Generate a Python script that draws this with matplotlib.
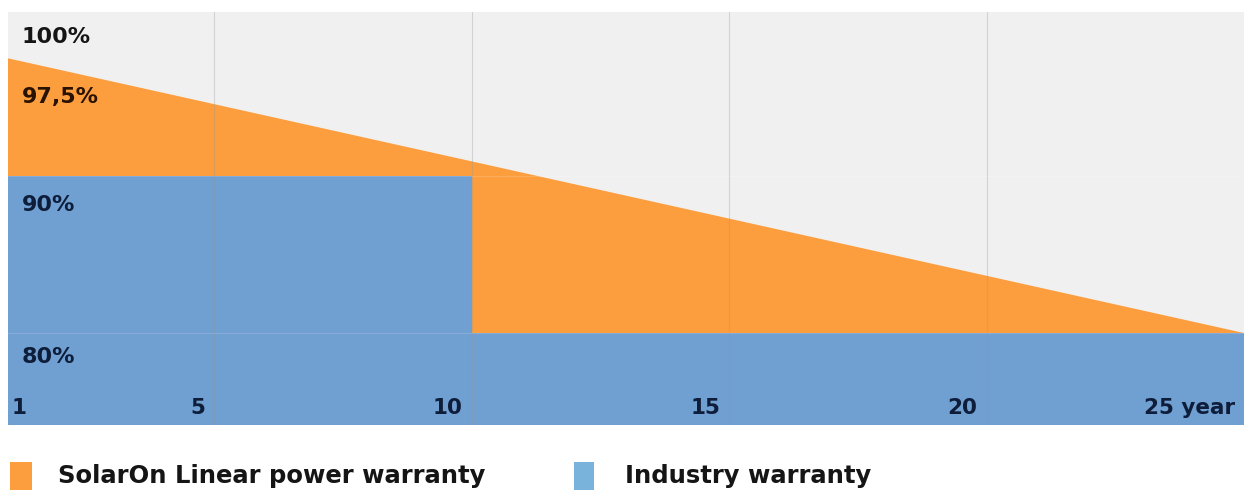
import matplotlib
matplotlib.use("Agg")
import matplotlib.pyplot as plt
from matplotlib.patches import Rectangle

# data
years = [1, 25]
solaron_pct = [97.5, 80]
industry_years = [1, 10, 10, 25]
industry_pct = [90, 90, 80, 80]
year_ticks = [1, 5, 10, 15, 20, 25]
year_labels = ["1", "5", "10", "15", "20", "25 year"]
pct_values = [100, 97.5, 90, 80]
pct_labels = ["100%", "97,5%", "90%", "80%"]
legend_labels = ["SolarOn Linear power warranty", "Industry warranty"]

orange = "#fd9e3e"
blue = "#709fd1"
legend_blue = "#79b3dc"
bg = "#f0f0f0"

plt.rcParams['font.family'] = ['DejaVu Sans']

fig = plt.figure(figsize=(12.44, 4.9), dpi=100)
ax = fig.add_axes([8/1244, 65/490, 1236/1244, 413/490])
ax.set_facecolor(bg)
ax.set_xlim(1, 25)
ax.set_ylim(74.14, 100.45)

ax.fill_between(years, 0, solaron_pct, color=orange, lw=0, zorder=1)
ax.fill_between(industry_years, 0, industry_pct, color=blue, lw=0, zorder=2)

for x in year_ticks[1:-1]:
    ax.axvline(x, color="#9a9a9a", lw=0.8, alpha=0.35, zorder=3)
for y in [90, 80]:
    ax.axhline(y, color="#ffffff", lw=0.8, alpha=0.15, zorder=3)

for s in ax.spines.values():
    s.set_visible(False)
ax.set_xticks([])
ax.set_yticks([])

# percentage labels, inside the plot
offsets = [-18, -39, -29, -24]
colors = ["#151515", "#2a1200", "#0e1d3a", "#0e1d3a"]
for v, lab, off, c in zip(pct_values, pct_labels, offsets, colors):
    ax.annotate(lab, (1, v), xytext=(14, off), textcoords="offset pixels",
                ha="left", va="center", fontsize=16, fontweight="bold", color=c, zorder=5)

# year labels along the bottom
for x, lab in zip(year_ticks, year_labels):
    if x == 1:
        ax.annotate(lab, (x, 74.14), xytext=(4, 17), textcoords="offset pixels",
                    ha="left", va="center", fontsize=15.5, fontweight="bold", color="#0e1d3a", zorder=5)
    else:
        ax.annotate(lab, (x, 74.14), xytext=(-9, 17), textcoords="offset pixels",
                    ha="right", va="center", fontsize=15.5, fontweight="bold", color="#0e1d3a", zorder=5)

# legend
fig.patches.append(Rectangle((10/1244, 0), 22/1244, 28/490, transform=fig.transFigure,
                             color=orange, lw=0))
fig.text(58/1244, 14/490, legend_labels[0], ha="left", va="center", fontsize=17.5,
         fontweight="bold", color="#151515")
fig.patches.append(Rectangle((574/1244, 0), 20/1244, 28/490, transform=fig.transFigure,
                             color=legend_blue, lw=0))
fig.text(625/1244, 14/490, legend_labels[1], ha="left", va="center", fontsize=17.5,
         fontweight="bold", color="#151515")

fig.savefig("out.png", dpi=100)
